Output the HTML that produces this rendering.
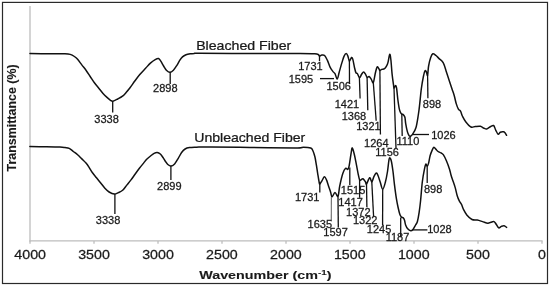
<!DOCTYPE html>
<html><head><meta charset="utf-8"><style>
html,body{margin:0;padding:0;background:#fff;width:550px;height:286px;overflow:hidden}
svg{display:block}
text{font-family:"Liberation Sans",sans-serif;fill:#1a1a1a;stroke:#1a1a1a;stroke-width:0.25px}
svg{filter:blur(0.3px)}
</style></head><body>
<svg width="550" height="286" viewBox="0 0 550 286">
<rect x="0" y="0" width="550" height="286" fill="#fff"/>
<rect x="2.5" y="2.4" width="545" height="281.1" fill="none" stroke="#2a2a2a" stroke-width="1.2"/>
<g stroke="#bdbdbd" stroke-width="1.3" fill="none">
<line x1="30" y1="6" x2="30" y2="241.5"/>
<line x1="29.4" y1="240.9" x2="542.6" y2="240.9"/>
<line x1="30" y1="240.9" x2="30" y2="243.8" /><line x1="94" y1="240.9" x2="94" y2="243.8" /><line x1="158" y1="240.9" x2="158" y2="243.8" /><line x1="222" y1="240.9" x2="222" y2="243.8" /><line x1="286" y1="240.9" x2="286" y2="243.8" /><line x1="350" y1="240.9" x2="350" y2="243.8" /><line x1="414" y1="240.9" x2="414" y2="243.8" /><line x1="478" y1="240.9" x2="478" y2="243.8" /><line x1="542" y1="240.9" x2="542" y2="243.8" />
</g>
<g fill="none" stroke="#111" stroke-width="1.5" stroke-linejoin="round" stroke-linecap="round">
<path d="M30.00,53.50 C33.33,53.55 44.17,53.75 50.00,53.80 C55.83,53.85 61.63,53.70 65.00,53.80 C68.37,53.90 68.63,53.95 70.20,54.40 C71.77,54.85 73.17,55.68 74.40,56.50 C75.63,57.32 76.37,57.90 77.60,59.30 C78.83,60.70 80.40,63.08 81.80,64.90 C83.20,66.72 84.60,68.27 86.00,70.20 C87.40,72.13 88.80,74.40 90.20,76.50 C91.60,78.60 93.00,80.88 94.40,82.80 C95.80,84.72 97.20,86.27 98.60,88.00 C100.00,89.73 101.40,91.63 102.80,93.20 C104.20,94.77 105.72,96.22 107.00,97.40 C108.28,98.58 109.52,99.67 110.50,100.30 C111.48,100.93 111.70,101.42 112.90,101.20 C114.10,100.98 116.10,99.83 117.70,99.00 C119.30,98.17 121.07,97.32 122.50,96.20 C123.93,95.08 125.02,93.75 126.30,92.30 C127.58,90.85 128.75,89.42 130.20,87.50 C131.65,85.58 133.40,82.95 135.00,80.80 C136.60,78.65 138.03,76.68 139.80,74.60 C141.57,72.52 143.83,70.22 145.60,68.30 C147.37,66.38 148.80,64.55 150.40,63.10 C152.00,61.65 153.85,60.37 155.20,59.60 C156.55,58.83 157.57,58.25 158.50,58.50 C159.43,58.75 159.95,59.85 160.80,61.10 C161.65,62.35 162.67,64.48 163.60,66.00 C164.53,67.52 165.35,69.15 166.40,70.20 C167.45,71.25 168.73,72.30 169.90,72.30 C171.07,72.30 172.23,71.37 173.40,70.20 C174.57,69.03 175.85,66.93 176.90,65.30 C177.95,63.67 178.77,61.80 179.70,60.40 C180.63,59.00 181.45,57.83 182.50,56.90 C183.55,55.97 184.72,55.32 186.00,54.80 C187.28,54.28 188.80,54.03 190.20,53.80 C191.60,53.57 192.77,53.50 194.40,53.40 C196.03,53.30 190.73,53.18 200.00,53.20 C209.27,53.22 233.33,53.47 250.00,53.50 C266.67,53.53 289.20,53.37 300.00,53.40 C310.80,53.43 311.75,53.52 314.80,53.70 C317.85,53.88 317.52,54.12 318.30,54.50 C319.08,54.88 318.92,55.92 319.50,56.00 C320.08,56.08 320.95,55.08 321.80,55.00 C322.65,54.92 323.67,54.60 324.60,55.50 C325.53,56.40 326.47,58.42 327.40,60.40 C328.33,62.38 329.27,65.53 330.20,67.40 C331.13,69.27 332.20,70.55 333.00,71.60 C333.80,72.65 334.28,72.47 335.00,73.70 C335.72,74.93 336.60,79.25 337.30,79.00 C338.00,78.75 338.42,74.97 339.20,72.20 C339.98,69.43 341.18,65.08 342.00,62.40 C342.82,59.72 343.40,57.57 344.10,56.10 C344.80,54.63 345.57,53.60 346.20,53.60 C346.83,53.60 347.37,54.83 347.90,56.10 C348.43,57.37 348.80,60.97 349.40,61.20 C350.00,61.43 350.92,57.77 351.50,57.50 C352.08,57.23 352.38,57.85 352.90,59.60 C353.42,61.35 354.08,65.78 354.60,68.00 C355.12,70.22 355.53,71.97 356.00,72.90 C356.47,73.83 356.82,72.78 357.40,73.60 C357.98,74.42 358.80,77.68 359.50,77.80 C360.20,77.92 360.92,75.28 361.60,74.30 C362.28,73.32 362.93,71.90 363.60,71.90 C364.27,71.90 365.02,73.37 365.60,74.30 C366.18,75.23 366.52,77.13 367.10,77.50 C367.68,77.87 368.42,76.23 369.10,76.50 C369.78,76.77 370.50,78.08 371.20,79.10 C371.90,80.12 372.60,83.65 373.30,82.60 C374.00,81.55 374.77,75.42 375.40,72.80 C376.03,70.18 376.52,67.58 377.10,66.90 C377.68,66.22 378.43,68.10 378.90,68.70 C379.37,69.30 379.43,70.38 379.90,70.50 C380.37,70.62 380.93,69.70 381.70,69.40 C382.47,69.10 383.68,69.28 384.50,68.70 C385.32,68.12 386.02,66.95 386.60,65.90 C387.18,64.85 387.48,64.33 388.00,62.40 C388.52,60.47 389.22,54.70 389.70,54.30 C390.18,53.90 390.50,56.68 390.90,60.00 C391.30,63.32 391.67,70.08 392.10,74.20 C392.53,78.32 393.18,82.40 393.50,84.70 C393.82,87.00 393.65,87.85 394.00,88.00 C394.35,88.15 395.17,85.57 395.60,85.60 C396.03,85.63 396.22,85.80 396.60,88.20 C396.98,90.60 397.43,96.47 397.90,100.00 C398.37,103.53 398.88,107.17 399.40,109.40 C399.92,111.63 400.33,112.48 401.00,113.40 C401.67,114.32 402.75,114.25 403.40,114.90 C404.05,115.55 404.52,115.85 404.90,117.30 C405.28,118.75 405.30,121.25 405.70,123.60 C406.10,125.95 406.77,129.43 407.30,131.40 C407.83,133.37 408.38,134.60 408.90,135.40 C409.42,136.20 409.75,136.47 410.40,136.20 C411.05,135.93 411.87,135.25 412.80,133.80 C413.73,132.35 415.08,130.63 416.00,127.50 C416.92,124.37 417.70,118.75 418.30,115.00 C418.90,111.25 419.10,109.33 419.60,105.00 C420.10,100.67 420.67,93.75 421.30,89.00 C421.93,84.25 422.77,79.57 423.40,76.50 C424.03,73.43 424.58,71.30 425.10,70.60 C425.62,69.90 426.08,71.50 426.50,72.30 C426.92,73.10 427.25,76.45 427.60,75.40 C427.95,74.35 428.08,68.97 428.60,66.00 C429.12,63.03 430.00,59.63 430.70,57.60 C431.40,55.57 431.92,54.15 432.80,53.80 C433.68,53.45 434.95,54.70 436.00,55.50 C437.05,56.30 437.88,57.38 439.10,58.60 C440.32,59.82 442.07,60.52 443.30,62.80 C444.53,65.08 445.45,69.15 446.50,72.30 C447.55,75.45 448.67,78.88 449.60,81.70 C450.53,84.52 451.33,86.90 452.10,89.20 C452.87,91.50 453.50,93.05 454.20,95.50 C454.90,97.95 455.60,101.63 456.30,103.90 C457.00,106.17 457.70,107.88 458.40,109.10 C459.10,110.32 459.80,109.97 460.50,111.20 C461.20,112.43 461.73,114.75 462.60,116.50 C463.47,118.25 464.30,119.95 465.70,121.70 C467.10,123.45 469.42,126.20 471.00,127.00 C472.58,127.80 473.63,126.62 475.20,126.50 C476.77,126.38 479.00,126.05 480.40,126.30 C481.80,126.55 482.55,127.55 483.60,128.00 C484.65,128.45 485.65,129.17 486.70,129.00 C487.75,128.83 488.75,127.58 489.90,127.00 C491.05,126.42 492.63,124.98 493.60,125.50 C494.57,126.02 494.93,128.63 495.70,130.10 C496.47,131.57 497.43,133.95 498.20,134.30 C498.97,134.65 499.42,132.62 500.30,132.20 C501.18,131.78 502.72,131.70 503.50,131.80 C504.28,131.90 504.48,132.22 505.00,132.80 C505.52,133.38 506.33,134.88 506.60,135.30"/>
<path d="M29.90,146.60 C32.58,146.63 40.98,146.72 46.00,146.80 C51.02,146.88 56.83,146.97 60.00,147.10 C63.17,147.23 63.47,147.38 65.00,147.60 C66.53,147.82 67.80,147.75 69.20,148.40 C70.60,149.05 72.00,150.45 73.40,151.50 C74.80,152.55 76.20,153.47 77.60,154.70 C79.00,155.93 80.40,157.50 81.80,158.90 C83.20,160.30 84.78,161.70 86.00,163.10 C87.22,164.50 88.05,165.73 89.10,167.30 C90.15,168.87 91.07,170.75 92.30,172.50 C93.53,174.25 95.10,176.05 96.50,177.80 C97.90,179.55 99.30,181.27 100.70,183.00 C102.10,184.73 103.50,186.70 104.90,188.20 C106.30,189.70 107.53,191.02 109.10,192.00 C110.67,192.98 112.75,194.00 114.30,194.10 C115.85,194.20 117.02,193.23 118.40,192.60 C119.78,191.97 121.20,191.55 122.60,190.30 C124.00,189.05 125.40,186.83 126.80,185.10 C128.20,183.37 129.60,181.75 131.00,179.90 C132.40,178.05 133.80,175.93 135.20,174.00 C136.60,172.07 138.00,170.12 139.40,168.30 C140.80,166.48 142.38,164.60 143.60,163.10 C144.82,161.60 145.48,160.53 146.70,159.30 C147.92,158.07 149.67,156.68 150.90,155.70 C152.13,154.72 153.05,153.92 154.10,153.40 C155.15,152.88 156.17,152.50 157.20,152.60 C158.23,152.70 159.33,153.18 160.30,154.00 C161.27,154.82 162.13,156.25 163.00,157.50 C163.87,158.75 164.70,160.33 165.50,161.50 C166.30,162.67 166.90,163.73 167.80,164.50 C168.70,165.27 169.77,166.20 170.90,166.10 C172.03,166.00 173.40,165.15 174.60,163.90 C175.80,162.65 176.93,160.50 178.10,158.60 C179.27,156.70 180.43,154.10 181.60,152.50 C182.77,150.90 183.78,149.82 185.10,149.00 C186.42,148.18 187.60,147.90 189.50,147.60 C191.40,147.30 193.00,147.32 196.50,147.20 C200.00,147.08 201.58,146.85 210.50,146.90 C219.42,146.95 235.92,147.32 250.00,147.50 C264.08,147.68 286.10,148.03 295.00,148.00 C303.90,147.97 300.78,147.30 303.40,147.30 C306.02,147.30 309.13,147.47 310.70,148.00 C312.27,148.53 312.10,149.03 312.80,150.50 C313.50,151.97 314.30,154.35 314.90,156.80 C315.50,159.25 315.93,162.40 316.40,165.20 C316.87,168.00 317.25,170.80 317.70,173.60 C318.15,176.40 318.75,180.27 319.10,182.00 C319.45,183.73 319.33,184.18 319.80,184.00 C320.27,183.82 321.13,182.12 321.90,180.90 C322.67,179.68 323.63,176.87 324.40,176.70 C325.17,176.53 325.80,178.32 326.50,179.90 C327.20,181.48 327.90,184.12 328.60,186.20 C329.30,188.28 330.13,190.60 330.70,192.40 C331.27,194.20 331.28,196.98 332.00,197.00 C332.72,197.02 334.00,192.60 335.00,192.50 C336.00,192.40 337.22,197.45 338.00,196.40 C338.78,195.35 338.90,190.00 339.70,186.20 C340.50,182.40 341.82,176.58 342.80,173.60 C343.78,170.62 344.78,169.00 345.60,168.30 C346.42,167.60 347.12,169.75 347.70,169.40 C348.28,169.05 348.52,169.00 349.10,166.20 C349.68,163.40 350.67,155.63 351.20,152.60 C351.73,149.57 351.77,147.65 352.30,148.00 C352.83,148.35 353.70,151.83 354.40,154.70 C355.10,157.57 355.88,162.05 356.50,165.20 C357.12,168.35 357.58,171.15 358.10,173.60 C358.62,176.05 359.13,178.85 359.60,179.90 C360.07,180.95 360.33,180.08 360.90,179.90 C361.47,179.72 362.23,178.45 363.00,178.80 C363.77,179.15 364.92,181.13 365.50,182.00 C366.08,182.87 365.80,184.70 366.50,184.00 C367.20,183.30 368.82,178.13 369.70,177.80 C370.58,177.47 371.10,182.18 371.80,182.00 C372.50,181.82 373.13,178.18 373.90,176.70 C374.67,175.22 375.70,173.27 376.40,173.10 C377.10,172.93 377.47,174.22 378.10,175.70 C378.73,177.18 379.43,179.73 380.20,182.00 C380.97,184.27 381.83,189.30 382.70,189.30 C383.57,189.30 384.60,184.97 385.40,182.00 C386.20,179.03 386.93,175.00 387.50,171.50 C388.07,168.00 388.45,163.28 388.80,161.00 C389.15,158.72 389.18,157.80 389.60,157.80 C390.02,157.80 390.73,158.72 391.30,161.00 C391.87,163.28 392.48,167.65 393.00,171.50 C393.52,175.35 393.83,179.57 394.40,184.10 C394.97,188.63 395.78,194.80 396.40,198.70 C397.02,202.60 397.52,204.87 398.10,207.50 C398.68,210.13 399.32,212.90 399.90,214.50 C400.48,216.10 401.02,216.52 401.60,217.10 C402.18,217.68 402.90,217.42 403.40,218.00 C403.90,218.58 404.23,219.43 404.60,220.60 C404.97,221.77 405.08,223.63 405.60,225.00 C406.12,226.37 406.85,227.83 407.70,228.80 C408.55,229.77 409.82,230.70 410.70,230.80 C411.58,230.90 412.18,230.37 413.00,229.40 C413.82,228.43 414.87,226.32 415.60,225.00 C416.33,223.68 416.82,223.55 417.40,221.50 C417.98,219.45 418.57,216.20 419.10,212.70 C419.63,209.20 420.07,205.62 420.60,200.50 C421.13,195.38 421.67,187.18 422.30,182.00 C422.93,176.82 423.80,172.38 424.40,169.40 C425.00,166.42 425.43,164.63 425.90,164.10 C426.37,163.57 426.75,166.37 427.20,166.20 C427.65,166.03 428.12,164.85 428.60,163.10 C429.08,161.35 429.50,157.87 430.10,155.70 C430.70,153.53 431.57,151.50 432.20,150.10 C432.83,148.70 433.27,147.42 433.90,147.30 C434.53,147.18 435.30,148.70 436.00,149.40 C436.70,150.10 437.23,150.90 438.10,151.50 C438.97,152.10 440.33,152.47 441.20,153.00 C442.07,153.53 442.42,153.37 443.30,154.70 C444.18,156.03 445.45,158.55 446.50,161.00 C447.55,163.45 448.85,167.07 449.60,169.40 C450.35,171.73 450.42,173.02 451.00,175.00 C451.58,176.98 452.40,179.20 453.10,181.30 C453.80,183.40 454.50,185.15 455.20,187.60 C455.90,190.05 456.60,193.73 457.30,196.00 C458.00,198.27 458.70,199.80 459.40,201.20 C460.10,202.60 460.80,203.00 461.50,204.40 C462.20,205.80 462.72,207.85 463.60,209.60 C464.48,211.35 465.40,213.25 466.80,214.90 C468.20,216.55 470.25,218.63 472.00,219.50 C473.75,220.37 475.55,219.75 477.30,220.10 C479.05,220.45 480.75,221.08 482.50,221.60 C484.25,222.12 486.40,223.10 487.80,223.20 C489.20,223.30 489.85,222.47 490.90,222.20 C491.95,221.93 493.22,221.25 494.10,221.60 C494.98,221.95 495.43,223.25 496.20,224.30 C496.97,225.35 497.83,227.55 498.70,227.90 C499.57,228.25 500.50,226.75 501.40,226.40 C502.30,226.05 503.23,225.63 504.10,225.80 C504.97,225.97 506.18,227.13 506.60,227.40"/>
</g>
<g stroke="#111" stroke-width="1.3" stroke-linecap="butt">
<line x1="112.7" y1="101.6" x2="112.7" y2="112.6"/><line x1="170.2" y1="72" x2="170.2" y2="84"/><line x1="319.5" y1="55.5" x2="319.5" y2="61"/><line x1="320" y1="78.6" x2="334" y2="78.6"/><line x1="349.4" y1="61" x2="349.5" y2="84"/><line x1="359.4" y1="78" x2="360.1" y2="98.4"/><line x1="367.1" y1="77.5" x2="367.8" y2="110.3"/><line x1="373.3" y1="82.6" x2="376.2" y2="120.8"/><line x1="379.9" y1="70.5" x2="380.4" y2="134.5"/><line x1="394" y1="88" x2="396" y2="148.6"/><line x1="401.8" y1="114" x2="402.2" y2="136"/><line x1="412.5" y1="134.5" x2="429" y2="134.5"/><line x1="427.6" y1="75.4" x2="427.9" y2="98.3"/><line x1="114.9" y1="194.1" x2="114.9" y2="214"/><line x1="170.9" y1="166" x2="170.9" y2="180"/><line x1="319.8" y1="184" x2="319.8" y2="192.5"/><line x1="338" y1="196.4" x2="338.3" y2="227.5"/><line x1="349.8" y1="167.5" x2="349.8" y2="185"/><line x1="359.6" y1="179.9" x2="359.6" y2="197.8"/><line x1="366.5" y1="184" x2="366.9" y2="207.2"/><line x1="371.8" y1="182" x2="373.6" y2="216.7"/><line x1="382.7" y1="189.3" x2="382.6" y2="225"/><line x1="400.7" y1="217.5" x2="400.7" y2="237.2"/><line x1="412.1" y1="229.9" x2="427.4" y2="229.9"/><line x1="427.2" y1="166.2" x2="427.2" y2="183"/>
</g>
<line x1="331.4" y1="197" x2="331.3" y2="221.5" stroke="#777" stroke-width="1.2"/>
<g>
<text transform="translate(94.26,123.14) scale(1.060,1)" font-size="10.40">3338</text>
<text transform="translate(153.01,92.24) scale(1.060,1)" font-size="10.40">2898</text>
<text transform="translate(298.15,70.44) scale(1.060,1)" font-size="10.40">1731</text>
<text transform="translate(288.64,83.39) scale(1.060,1)" font-size="10.40">1595</text>
<text transform="translate(326.44,89.89) scale(1.060,1)" font-size="10.40">1506</text>
<text transform="translate(334.75,108.19) scale(1.060,1)" font-size="10.40">1421</text>
<text transform="translate(341.69,119.54) scale(1.060,1)" font-size="10.40">1368</text>
<text transform="translate(356.15,130.14) scale(1.060,1)" font-size="10.40">1321</text>
<text transform="translate(364.04,146.64) scale(1.060,1)" font-size="10.40">1264</text>
<text transform="translate(375.28,155.69) scale(1.060,1)" font-size="10.40">1156</text>
<text transform="translate(396.51,145.24) scale(1.060,1)" font-size="10.40">1110</text>
<text transform="translate(431.19,138.94) scale(1.060,1)" font-size="10.40">1026</text>
<text transform="translate(422.80,107.64) scale(1.060,1)" font-size="10.40">898</text>
<text transform="translate(95.86,223.99) scale(1.060,1)" font-size="10.40">3338</text>
<text transform="translate(157.01,189.99) scale(1.060,1)" font-size="10.40">2899</text>
<text transform="translate(294.90,201.39) scale(1.060,1)" font-size="10.40">1731</text>
<text transform="translate(307.59,227.59) scale(1.060,1)" font-size="10.40">1635</text>
<text transform="translate(323.35,236.24) scale(1.060,1)" font-size="10.40">1597</text>
<text transform="translate(340.84,193.54) scale(1.060,1)" font-size="10.40">1515</text>
<text transform="translate(338.30,206.14) scale(1.060,1)" font-size="10.40">1417</text>
<text transform="translate(346.10,215.59) scale(1.060,1)" font-size="10.40">1372</text>
<text transform="translate(352.95,224.49) scale(1.060,1)" font-size="10.40">1322</text>
<text transform="translate(366.79,233.39) scale(1.060,1)" font-size="10.40">1245</text>
<text transform="translate(385.63,241.44) scale(1.060,1)" font-size="10.40">1187</text>
<text transform="translate(427.14,232.79) scale(1.060,1)" font-size="10.40">1028</text>
<text transform="translate(424.00,192.94) scale(1.060,1)" font-size="10.40">898</text>
<text transform="translate(14.34,259.4) scale(1.130,1)" font-size="12.6">4000</text>
<text transform="translate(78.20,259.4) scale(1.130,1)" font-size="12.6">3500</text>
<text transform="translate(142.20,259.4) scale(1.130,1)" font-size="12.6">3000</text>
<text transform="translate(206.12,259.4) scale(1.130,1)" font-size="12.6">2500</text>
<text transform="translate(270.12,259.4) scale(1.130,1)" font-size="12.6">2000</text>
<text transform="translate(333.91,259.4) scale(1.130,1)" font-size="12.6">1500</text>
<text transform="translate(397.91,259.4) scale(1.130,1)" font-size="12.6">1000</text>
<text transform="translate(466.11,259.4) scale(1.130,1)" font-size="12.6">500</text>
<text transform="translate(538.01,259.4) scale(1.130,1)" font-size="12.6">0</text>
<text transform="translate(196.17,49.6) scale(1.141,1)" font-size="12.4">Bleached Fiber</text>
<text transform="translate(194.27,141.6) scale(1.135,1)" font-size="12.4">Unbleached Fiber</text>
</g>
<text transform="translate(199.2,278.7) scale(1.235,1)" font-size="11.6" font-weight="bold" style="stroke-width:0.1px">Wavenumber (cm<tspan font-size="8" dy="-4.2">-1</tspan><tspan dy="4.2">)</tspan></text>
<text transform="translate(16.1,171.5) rotate(-90)" font-size="12.45" font-weight="bold" style="stroke-width:0.1px">Transmittance (%)</text>
</svg>
</body></html>
